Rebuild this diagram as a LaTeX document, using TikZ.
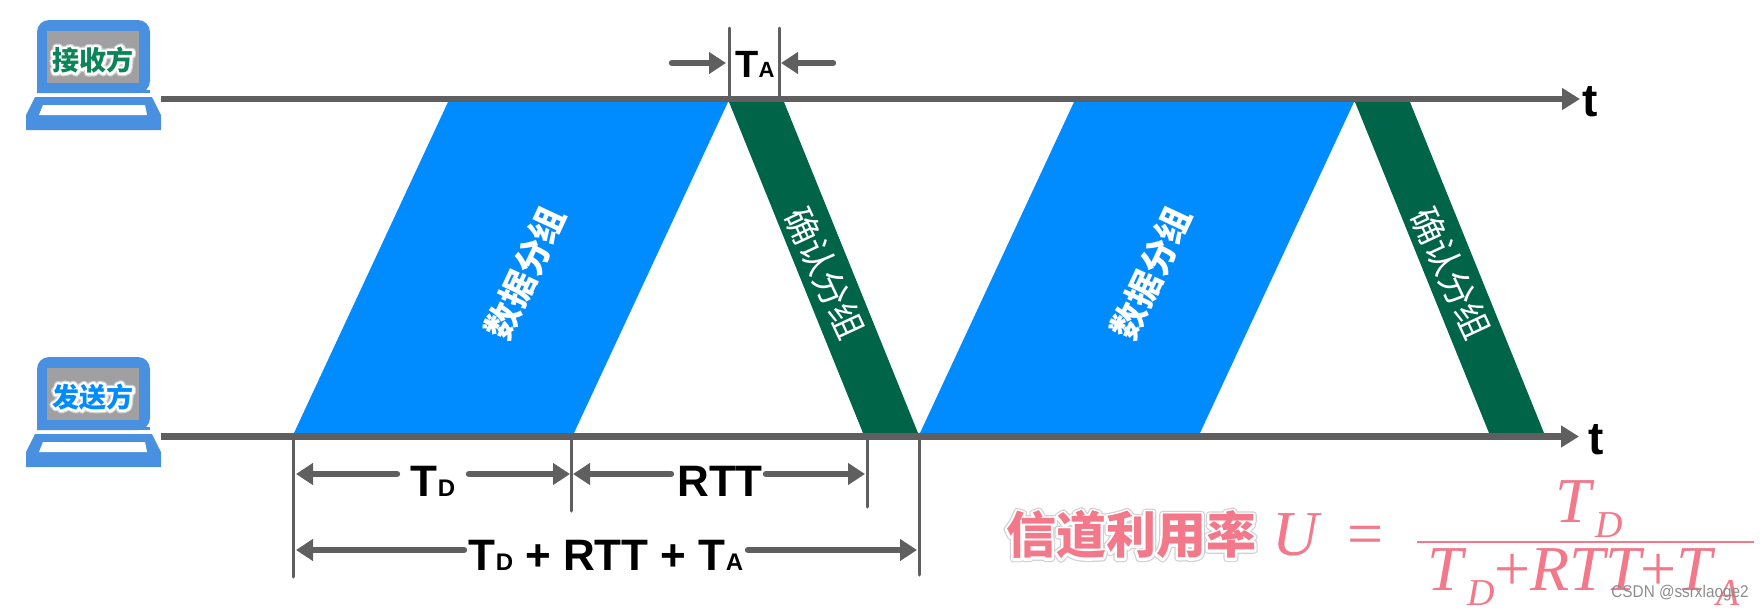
\documentclass[tikz,border=0pt]{standalone}
\usepackage{fontspec}
\setmainfont{Liberation Sans}
\newfontfamily\cjk{Noto Sans CJK SC}
\newfontfamily\formfont{Liberation Serif}
\usetikzlibrary{arrows.meta}
\definecolor{axisgray}{HTML}{5F5F5F}
\definecolor{laptopblue}{HTML}{4A90E0}
\definecolor{screengray}{HTML}{A09FA1}
\definecolor{packetblue}{HTML}{008CFF}
\definecolor{ackgreen}{HTML}{006548}
\definecolor{labelgreen}{HTML}{0B8457}
\definecolor{formpink}{HTML}{F2788A}
\tikzset{
  axisline/.style={draw=axisgray, line width=3.4pt, -{Triangle[length=9pt,width=10.5pt]}},
  tickline/.style={draw=axisgray, line width=1.5pt, line cap=round},
  spanline/.style={draw=axisgray, line width=3.2pt, line cap=round, -{Triangle[length=8.5pt,width=10.5pt]}},
  spantext/.style={inner sep=0pt, text=black, font=\bfseries\fontsize{22}{22}\selectfont},
  axistext/.style={inner sep=0pt, text=black, font=\bfseries\fontsize{23}{23}\selectfont},
  formtext/.style={inner sep=0pt, text=formpink, anchor=base west, font=\formfont\itshape\fontsize{32}{32}\selectfont},
  packettext/.style={inner sep=0pt, text=white, font=\cjk\bfseries\fontsize{17.5}{17.5}\selectfont},
}
\newcommand{\subT}[1]{T{\fontsize{12}{12}\selectfont #1}}
\newcommand{\subF}[1]{\kern2pt{\fontsize{19}{19}\selectfont\raisebox{-7.5pt}{#1}}}
% stroked copies of the text, then the filled text
\newcommand{\halo}[1]{\leavevmode
  \rlap{\special{pdf:code 1 Tr 3.6 w 1 j 0.82 G}#1\special{pdf:code 0 Tr 1 w 0 j 0 G}}%
  \rlap{\special{pdf:code 1 Tr 2.4 w 1 j 1 G}#1\special{pdf:code 0 Tr 1 w 0 j 0 G}}%
  #1}
\newcommand{\laptop}[4]{
  \begin{scope}[shift={(0,#1)}]
    \fill[laptopblue, rounded corners=6pt] (37,93) -- (37,20) -- (150,20) -- (150,93) [sharp corners] -- cycle;
    \fill[laptopblue] (37,90) rectangle (150,93);
    \fill[screengray] (47,31) rectangle (139,83);
    \fill[laptopblue] (35,97) -- (152,97) -- (161,115) -- (161,130) -- (26,130) -- (26,115) -- cycle;
    \fill[white] (43,105) -- (145,105) -- (147,115) -- (39,115) -- cycle;
    \node[inner sep=0pt, text=#3, font=\cjk\bfseries\fontsize{13.5}{13.5}\selectfont] (#2) at (93,60) {\halo{#4}};
  \end{scope}
}
\newcommand{\datapacket}[2]{
  \fill[packetblue] (#1,433) -- (#1+280,433) -- (#1+434,102) -- (#1+154,102) -- cycle;
  \node[packettext, rotate=65] (#2) at (#1+231,273) {数据分组};
}
\newcommand{\ackpacket}[2]{
  \fill[ackgreen] (#1,102) -- (#1+55,102) -- (#1+189,433) -- (#1+134,433) -- cycle;
  \node[packettext, font=\cjk\fontsize{17.5}{17.5}\selectfont, rotate=-65] (#2) at (#1+96,273) {确认分组};
}
\begin{document}
\begin{tikzpicture}[x=0.5pt,y=-0.5pt]
        \useasboundingbox (0,0) rectangle (1763,611);
        % packets
        \datapacket{294}{dataA}
        \datapacket{920}{dataB}
        \ackpacket{729}{ackA}
        \ackpacket{1355}{ackB}
        % laptops
        \laptop{0}{recv}{labelgreen}{接收方}
        \laptop{337}{send}{packetblue}{发送方}
        % time axes
        \coordinate (recvstart) at (161,99);
        \coordinate (recvend) at (1580,99);
        \coordinate (sendstart) at (161,436.5);
        \coordinate (sendend) at (1579,436.5);
        \draw[axisline] (recvstart) -- (recvend);
        \draw[axisline] (sendstart) -- (sendend);
        \node[axistext] (recvt) at (1590,102) {t};
        \node[axistext] (sendt) at (1596,440) {t};
        % ticks
        \coordinate (taL) at (729,28);
        \coordinate (taLb) at (729,96);
        \coordinate (taR) at (779,28);
        \coordinate (taRb) at (779,96);
        \coordinate (a) at (293.5,440);
        \coordinate (ab) at (293.5,577);
        \coordinate (b) at (571,440);
        \coordinate (bb) at (571,511);
        \coordinate (c) at (867,440);
        \coordinate (cb) at (867,507);
        \coordinate (d) at (919,440);
        \coordinate (db) at (919,575);
        \draw[tickline] (taL) -- (taLb);
        \draw[tickline] (taR) -- (taRb);
        \draw[tickline] (a) -- (ab);
        \draw[tickline] (b) -- (bb);
        \draw[tickline] (c) -- (cb);
        \draw[tickline] (d) -- (db);
        % TA
        \node[inner sep=0pt, font=\bfseries\fontsize{19}{19}\selectfont] (ta) at (755,64) {T{\fontsize{11}{11}\selectfont A}};
        \coordinate (taLs) at (672,63);
        \coordinate (taLe) at (726,63);
        \coordinate (taRs) at (833,63);
        \coordinate (taRe) at (781,63);
        \draw[spanline] (taLs) -- (taLe);
        \draw[spanline] (taRs) -- (taRe);
        % TD and RTT
        \node[spantext] (td) at (433,481) {\subT{D}};
        \node[spantext] (rtt) at (720,481) {RTT};
        \coordinate (tdL) at (397,474);
        \coordinate (tdLe) at (296,474);
        \coordinate (tdR) at (469,474);
        \coordinate (tdRe) at (570,474);
        \coordinate (rttL) at (671,474);
        \coordinate (rttLe) at (573,474);
        \coordinate (rttR) at (766,474);
        \coordinate (rttRe) at (865,474);
        \draw[spanline] (tdL) -- (tdLe);
        \draw[spanline] (tdR) -- (tdRe);
        \draw[spanline] (rttL) -- (rttLe);
        \draw[spanline] (rttR) -- (rttRe);
        % total
        \node[spantext] (total) at (606,555) {\subT{D} + RTT + \subT{A}};
        \coordinate (allL) at (464,550);
        \coordinate (allLe) at (296,550);
        \coordinate (allR) at (748,550);
        \coordinate (allRe) at (917,550);
        \draw[spanline] (allL) -- (allLe);
        \draw[spanline] (allR) -- (allRe);
        % formula
        \node[inner sep=0pt, font=\cjk\bfseries\fontsize{25}{25}\selectfont, text=formpink] (util) at (1131,535) {\halo{信道利用率}};
        \node[formtext] (uvar) at (1272,555) {U};
        \node[formtext, font=\formfont\fontsize{32}{32}\selectfont] (eq) at (1347,555) {=};
        \node[formtext] (num) at (1555,522) {T\subF{D}};
        \node[formtext] (den) at (1427,590) {T\subF{D}{\upshape +}RTT{\upshape +}T\subF{A}};
        \coordinate (barL) at (1417,542);
        \coordinate (barR) at (1754,542);
        \draw[formpink, line width=1pt] (barL) -- (barR);
        % watermark
        \node[inner sep=0pt, text=black!45, xscale=0.9, font=\fontsize{8.5}{8.5}\selectfont] (mark) at (1680,593) {CSDN @ssrxlaoge2};
\end{tikzpicture}
\end{document}
